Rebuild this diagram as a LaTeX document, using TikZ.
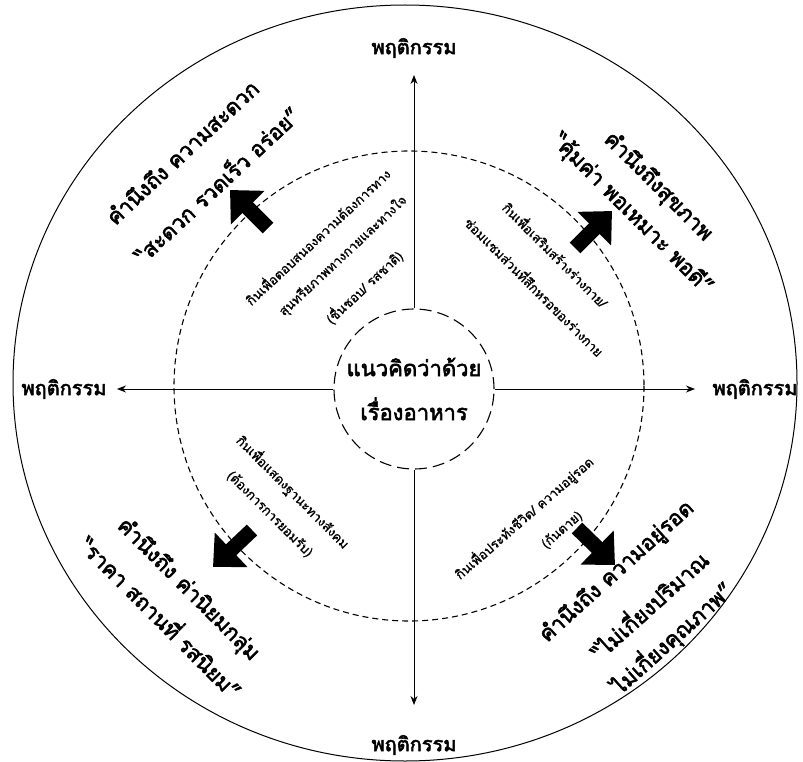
\documentclass[tikz,border=0pt]{standalone}
\usepackage{fontspec}
\usetikzlibrary{arrows.meta}
\newfontfamily\thai[Script=Thai]{Loma}
\newfontfamily\thaibold[Script=Thai, FakeBold=2.5]{Loma}
\newfontfamily\thaisemi[Script=Thai, FakeBold=1.2]{Loma}
\begin{document}
\begin{tikzpicture}[x=1pt,y=-1pt,
  axislabel/.style={font=\thaibold\fontsize{20}{22}\selectfont, inner sep=1pt},
  outertext/.style={font=\thaibold\fontsize{21.5}{24}\selectfont, inner sep=0pt},
  innertext/.style={font=\thaisemi\fontsize{13}{15}\selectfont, inner sep=0pt},
  axis/.style={line width=0.9pt, -{Stealth[length=9pt,width=7pt]}},
  bigarrow/.style={line width=15pt, -{Triangle[length=25pt,width=46pt]}},
  ring/.style={line width=1.1pt, dash pattern=on 6pt off 4pt},
]
\useasboundingbox (0,0) rectangle (803,762);
\fill[white] (0,0) rectangle (803,762);

% outer boundary and dashed middle ring
\draw[line width=1pt] (405,383) ellipse [x radius=392, y radius=378];
\draw[ring] (409,386) circle [radius=235];

% centre
\node[circle, draw, line width=1.1pt, dash pattern=on 12pt off 6pt,
      minimum size=160pt, inner sep=0pt, align=center,
      font=\thaibold\fontsize{22}{44}\selectfont] (c) at (414,389)
      {แนวคิดว่าด้วย\\เรื่องอาหาร};

% axis labels
\node[axislabel] (top) at (414,48) {พฤติกรรม};
\node[axislabel] (bottom) at (414,745) {พฤติกรรม};
\node[axislabel] (left) at (64,389) {พฤติกรรม};
\node[axislabel] (right) at (755,389) {พฤติกรรม};

\coordinate (topTip) at (414,75);
\coordinate (bottomTip) at (414,705);
\coordinate (leftTip) at (117,389);
\coordinate (rightTip) at (695,389);

\draw[axis] (c.north) -- (topTip);
\draw[axis] (c.south) -- (bottomTip);
\draw[axis] (c.west) -- (leftTip);
\draw[axis] (c.east) -- (rightTip);

% thick diagonal arrows on the ring
\coordinate (nwT) at (268,228); \coordinate (nwH) at (230,190);
\coordinate (neT) at (575,248); \coordinate (neH) at (612,211);
\coordinate (swT) at (252,530); \coordinate (swH) at (213,567);
\coordinate (seT) at (577,528); \coordinate (seH) at (615,565);
\draw[bigarrow] (nwT) -- (nwH);
\draw[bigarrow] (neT) -- (neH);
\draw[bigarrow] (swT) -- (swH);
\draw[bigarrow] (seT) -- (seH);

% outer texts
\node[outertext, rotate=43] (nw1) at (182,152) {คำนึงถึง ความสะดวก};
\node[outertext, rotate=43] (nw2) at (216,184) {“สะดวก รวดเร็ว อร่อย”};
\node[outertext, rotate=-45] (ne1) at (658,187) {คำนึงถึงสุขภาพ};
\node[outertext, rotate=-45] (ne2) at (632,214) {“คุ้มค่า พอเหมาะ พอดี”};
\node[outertext, rotate=-45] (sw1) at (188,590) {คำนึงถึง ค่านิยมกลุ่ม};
\node[outertext, rotate=-45] (sw2) at (162,616) {“ราคา สถานที่ รสนิยม”};
\node[outertext, rotate=42] (se1) at (617,572) {คำนึงถึง ความอยู่รอด};
\node[outertext, rotate=42] (se2) at (648,604) {“ไม่เกี่ยงปริมาณ};
\node[outertext, rotate=42] (se3) at (672,638) {ไม่เกี่ยงคุณภาพ”};

% inner texts
\node[innertext, rotate=43] (nwa) at (317,236) {กินเพื่อตอบสนองความต้องการทาง};
\node[innertext, rotate=43] (nwb) at (343,256) {สุนทรียภาพทางกายและทางใจ};
\node[innertext, rotate=43] (nwc) at (364,287) {(ชื่นชอบ/ รสชาติ)};
\node[innertext, rotate=-45] (nea) at (556,254) {กินเพื่อเสริมสร้างร่างกาย/};
\node[innertext, rotate=-45] (neb) at (535,286) {ซ่อมแซมส่วนที่สึกหรอของร่างกาย};
\node[innertext, rotate=-45] (swa) at (293,492) {กินเพื่อแสดงฐานะทางสังคม};
\node[innertext, rotate=-45] (swb) at (270,514) {(ต้องการการยอมรับ)};
\node[innertext, rotate=41] (sea) at (524,518) {กินเพื่อประทังชีวิต/ ความอยู่รอด};
\node[innertext, rotate=41] (seb) at (562,530) {(กันตาย)};
\end{tikzpicture}
\end{document}
